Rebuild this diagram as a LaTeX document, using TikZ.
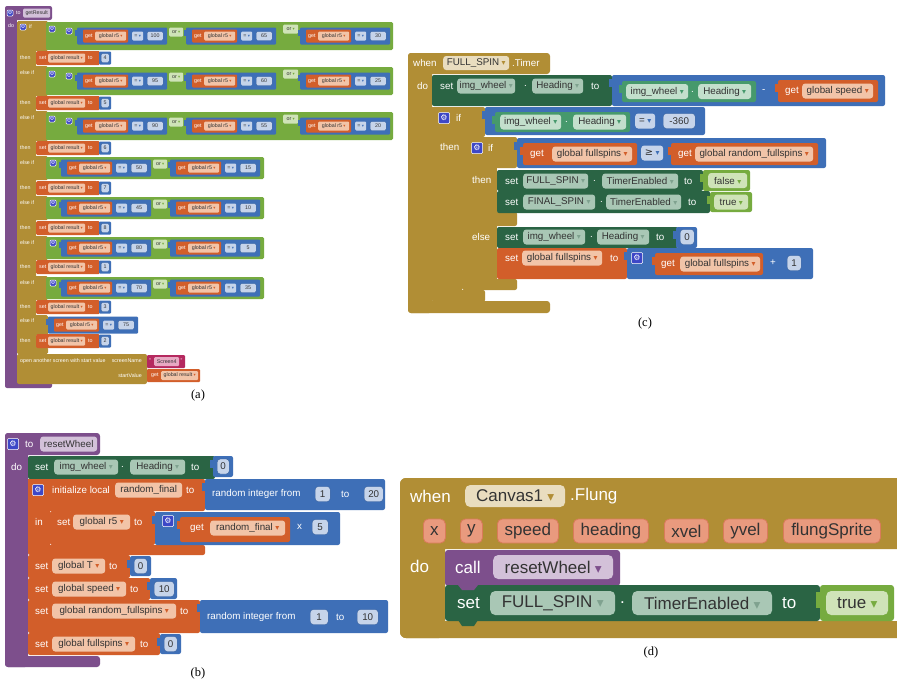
\documentclass[tikz,border=0pt]{standalone}
\usepackage{fontspec}
\setmainfont{Liberation Sans}
\newfontfamily\capf{Liberation Serif}
\newfontfamily\dv{DejaVu Sans}
\definecolor{purp}{HTML}{7D4F8C}
\definecolor{purpF}{HTML}{D3C1D9}
\definecolor{must}{HTML}{B18E35}
\definecolor{mustF}{HTML}{E9DDBF}
\definecolor{lg}{HTML}{76AB3F}
\definecolor{lgF}{HTML}{CFE3B8}
\definecolor{bl}{HTML}{3E6FB7}
\definecolor{blF}{HTML}{C6D4EA}
\definecolor{blD}{HTML}{2F5A99}
\definecolor{orc}{HTML}{D25E2A}
\definecolor{orF}{HTML}{F2C4A8}
\definecolor{dg}{HTML}{2A6444}
\definecolor{dgF}{HTML}{A9C7B5}
\definecolor{mg}{HTML}{46996C}
\definecolor{mgF}{HTML}{C3DFCC}
\definecolor{mag}{HTML}{B5295F}
\definecolor{magF}{HTML}{E8A9C3}
\definecolor{salm}{HTML}{E99A7E}
\definecolor{salmD}{HTML}{D97B5A}
\definecolor{gearb}{HTML}{3D47C7}
\newcommand\dd[1]{\hspace{0.25em}\scalebox{0.8}{\dv\textcolor{#1}{▾}}}
\newcommand\lab[5]{\node[anchor=west,inner sep=0pt,#4] (#1) at (#2,#3) {#5};}
\newcommand\fld[6]{\node[anchor=west,#5,minimum width=#3pt] (#1) at (#2,#4) {#6};}
\newcommand\gearn[5]{\node[gearst,minimum size=#4pt,font=\dv\fontsize{#5}{#5}\selectfont] (#1) at (#2,#3) {⚙};}
\newcommand\vtab[3]{\fill[#3] (#1-3,#2+4) rectangle (#1+0.5,#2+12);}
\tikzset{
 gearst/.style={fill=gearb,draw=white,line width=0.5pt,rounded corners=1pt,inner sep=0pt,text=white},
 ta/.style={font=\fontsize{5.3}{6}\selectfont,text=white},
 fa/.style={ta,text=black!80,rounded corners=1.2pt,minimum height=9pt,inner sep=0.3pt},
 tb/.style={font=\fontsize{9.8}{11}\selectfont,text=white},
 fb/.style={tb,text=black!80,rounded corners=3pt,minimum height=15pt,inner sep=0.5pt},
 td/.style={font=\fontsize{17}{19}\selectfont,text=white},
 fd/.style={td,text=black!80,rounded corners=5pt,minimum height=24pt,inner sep=1pt},
 nb/.style={fb,fill=blF,draw=blD,line width=0.4pt},
 capst/.style={font=\capf\fontsize{12.5}{14}\selectfont,inner sep=0pt},
}
% panel (a) helpers
\newcommand\cmpA[4]{%
 \fill[bl,rounded corners=1pt] (#2,#3-8.5) rectangle ++(90,17);
 \fill[bl] (#2-2,#3-6) rectangle ++(3,6);
 \fill[orc,rounded corners=1pt] (#2+6,#3-6.5) rectangle ++(45,13);
 \lab{#1-get}{#2+8}{#3}{ta}{get}
 \fld{#1-v}{#2+18}{31}{#3}{fa,fill=orF}{global r5\dd{orc}}
 \fld{#1-eq}{#2+55}{11}{#3}{fa,fill=blF}{=\dd{bl}}
 \fld{#1-n}{#2+70}{16}{#3}{fa,fill=blF,draw=blD,line width=0.3pt}{#4}}
\newcommand\orA[5]{%
 \fill[lg,rounded corners=1.5pt] (#2,#3-11) rectangle ++(218,22);
 \gearn{#1-g}{#2+7}{#3-5}{6}{5}
 \cmpA{#1a}{#2+15}{#3}{#4}
 \fld{#1-or}{#2+107}{14}{#3-4}{fa,fill=lgF}{or\dd{lg}}
 \cmpA{#1b}{#2+124}{#3}{#5}}
\newcommand\orB[5]{%
 \fill[lg,rounded corners=1.5pt] (46,#2-14) rectangle (393,#2+14);
 \gearn{#1-g}{52}{#2-7}{6}{5}
 \orA{#1i}{62}{#2}{#3}{#4}
 \fld{#1-or}{283}{15}{#2-7}{fa,fill=lgF}{or\dd{lg}}
 \cmpA{#1c}{300}{#2}{#5}}
\newcommand\thenA[3]{%
 \lab{#1-t}{20}{#2}{ta}{then}
 \fill[orc,rounded corners=1.5pt] (36,#2-7) rectangle (100,#2+7);
 \lab{#1-s}{39}{#2}{ta}{set}
 \fld{#1-v}{48}{37}{#2}{fa,fill=orF}{global result\dd{orc}}
 \lab{#1-to}{88}{#2}{ta}{to}
 \fill[bl,rounded corners=1pt] (99,#2-6.5) rectangle (111,#2+6.5);
 \fld{#1-n}{101}{8}{#2}{fa,fill=blF,draw=blD,line width=0.3pt}{#3}}
\begin{document}
\begin{tikzpicture}[x=1pt,y=-1pt]
\useasboundingbox (0,0) rectangle (897,680);
\fill[white] (0,0) rectangle (897,680);
% ================= panel (a)
\fill[purp,rounded corners=2pt] (5,6) rectangle (52,20);
\fill[purp] (5,12) rectangle (17,384);
\fill[purp,rounded corners=2pt] (5,379) rectangle (52,388);
\gearn{a-gear}{10}{13}{6}{5}
\lab{a-to}{16}{13}{ta}{to}
\fld{a-name}{23}{27}{13}{fa,fill=purpF}{getResult}
\lab{a-do}{8}{26}{ta}{do}
\fill[must,rounded corners=1.5pt] (17,21) rectangle (36,354);
\fill[must,rounded corners=1.5pt] (17,21) rectangle (48,51);
\fill[must,rounded corners=1.5pt] (17,66) rectangle (48,96);
\fill[must,rounded corners=1.5pt] (17,111) rectangle (48,141);
\fill[must,rounded corners=1.5pt] (17,156) rectangle (48,180);
\fill[must,rounded corners=1.5pt] (17,196) rectangle (48,220);
\fill[must,rounded corners=1.5pt] (17,236) rectangle (48,260);
\fill[must,rounded corners=1.5pt] (17,276) rectangle (48,300);
\fill[must,rounded corners=1.5pt] (17,315) rectangle (48,335);
\fill[must,rounded corners=1.5pt] (17,347) rectangle (48,354);
\gearn{a-ifg}{23}{27}{6}{5}
\lab{a-if}{29}{27}{ta}{if}
\lab{a-e2}{20}{73}{ta}{else if}
\lab{a-e3}{20}{118}{ta}{else if}
\lab{a-e4}{20}{163}{ta}{else if}
\lab{a-e5}{20}{203}{ta}{else if}
\lab{a-e6}{20}{243}{ta}{else if}
\lab{a-e7}{20}{283}{ta}{else if}
\lab{a-e8}{20}{321}{ta}{else if}
\orB{a-r1}{36}{100}{65}{30}
\thenA{a-t1}{58}{4}
\orB{a-r2}{81}{95}{60}{25}
\thenA{a-t2}{103}{5}
\orB{a-r3}{126}{90}{55}{20}
\thenA{a-t3}{148}{6}
\orA{a-r4}{46}{168}{50}{15}
\thenA{a-t4}{188}{7}
\orA{a-r5}{46}{208}{45}{10}
\thenA{a-t5}{228}{8}
\orA{a-r6}{46}{248}{80}{5}
\thenA{a-t6}{267}{1}
\orA{a-r7}{46}{288}{70}{35}
\thenA{a-t7}{307}{3}
\cmpA{a-r8}{48}{325}{75}
\thenA{a-t8}{341}{2}
\fill[must,rounded corners=2pt] (17,354) rectangle (147,384);
\lab{a-open}{20}{361}{ta}{open another screen with start value}
\lab{a-sn}{142}{361}{ta,anchor=east}{screenName}
\lab{a-sv}{142}{376}{ta,anchor=east}{startValue}
\fill[mag,rounded corners=1pt] (147,355) rectangle (185,368);
\lab{a-q1}{149}{361}{ta}{"}
\fld{a-s4}{154}{25}{361.5}{fa,fill=magF}{Screen4}
\lab{a-q2}{180.5}{361}{ta}{"}
\fill[orc,rounded corners=1pt] (147,369) rectangle (200,382);
\lab{a-gg}{151}{375.5}{ta}{get}
\fld{a-gr}{161}{37}{375.5}{fa,fill=orF}{global result\dd{orc}}
\node[capst] (capa) at (198,395) {(a)};
% ================= panel (c)
\fill[must,rounded corners=3pt] (408,53) rectangle (550,74);
\fill[must,rounded corners=3pt] (408,53) rectangle (432,313);
\fill[must,rounded corners=3pt] (408,301) rectangle (550,313);
\lab{c-when}{413}{63}{tb}{when}
\fld{c-ev}{443}{66}{63}{fb,fill=mustF,minimum height=14pt}{FULL\_SPIN\dd{must}}
\lab{c-timer}{512}{63}{tb}{.Timer}
\lab{c-do}{417}{86}{tb}{do}
\fill[dg,rounded corners=2pt] (432,75) rectangle (612,106);
\lab{c-s1}{440}{86}{tb}{set}
\fld{c-s1a}{457}{58}{86}{fb,fill=dgF}{img\_wheel\dd{dg!60}}
\lab{c-s1d}{524}{86}{tb}{.}
\fld{c-s1b}{532}{51}{86}{fb,fill=dgF}{Heading\dd{dg!60}}
\lab{c-s1to}{591}{86}{tb}{to}
\fill[bl,rounded corners=2pt] (612,75) rectangle (885,106);
\vtab{612}{75}{bl}
\fill[mg,rounded corners=2pt] (622,81) rectangle (756,102);
\vtab{622}{81}{mg}
\fld{c-m1}{626}{62}{91.5}{fb,fill=mgF}{img\_wheel\dd{mg}}
\lab{c-m1d}{691}{91.5}{tb}{.}
\fld{c-m1b}{698}{53}{91.5}{fb,fill=mgF}{Heading\dd{mg}}
\lab{c-minus}{762}{91}{tb}{-}
\fill[orc,rounded corners=2pt] (778,80) rectangle (878,102);
\vtab{778}{80}{orc}
\lab{c-g1}{785}{91}{tb}{get}
\fld{c-g1v}{802}{71}{91}{fb,fill=orF}{global speed\dd{orc}}
% outer if
\fill[must,rounded corners=2pt] (432,107) rectangle (485,137);
\fill[must] (432,107) rectangle (462,296);
\fill[must,rounded corners=2pt] (432,290) rectangle (485,302);
\gearn{c-ifg}{444}{118}{11}{8}
\lab{c-if}{456}{118}{tb}{if}
\fill[bl,rounded corners=2pt] (485,107) rectangle (705,135);
\vtab{485}{107}{bl}
\fill[mg,rounded corners=2pt] (495,112) rectangle (630,132);
\vtab{495}{112}{mg}
\fld{c-h2a}{500}{61}{122}{fb,fill=mgF}{img\_wheel\dd{mg}}
\lab{c-h2d}{565}{122}{tb}{.}
\fld{c-h2b}{573}{53}{122}{fb,fill=mgF}{Heading\dd{mg}}
\fld{c-eq}{635}{20}{121}{fb,fill=blF}{=\dd{bl}}
\fld{c-n360}{663}{32}{121}{nb}{-360}
\lab{c-then}{440}{147}{tb}{then}
% inner if
\fill[must,rounded corners=2pt] (462,137) rectangle (517,168);
\fill[must] (462,137) rectangle (497,285);
\fill[must,rounded corners=2pt] (462,212) rectangle (517,226);
\fill[must,rounded corners=2pt] (462,279) rectangle (517,290);
\gearn{c-if2g}{477}{148}{11}{8}
\lab{c-if2}{488}{148}{tb}{if}
\fill[bl,rounded corners=2pt] (517,138) rectangle (826,168);
\vtab{517}{138}{bl}
\fill[orc,rounded corners=2pt] (523,143) rectangle (637,165);
\vtab{523}{143}{orc}
\lab{c-g2}{530}{154}{tb}{get}
\fld{c-g2v}{552}{80}{154}{fb,fill=orF}{global fullspins\dd{orc}}
\fld{c-ge}{641}{22}{153}{fb,fill=blF}{{\dv ≥}\dd{bl}}
\fill[orc,rounded corners=2pt] (671,143) rectangle (818,165);
\vtab{671}{143}{orc}
\lab{c-g3}{678}{154}{tb}{get}
\fld{c-g3v}{695}{118}{154}{fb,fill=orF}{global random\_fullspins\dd{orc}}
\lab{c-then2}{472}{180}{tb}{then}
\fill[dg,rounded corners=2pt] (497,170) rectangle (703,191);
\lab{c-s2}{505}{181}{tb}{set}
\fld{c-s2a}{523}{65}{181}{fb,fill=dgF}{FULL\_SPIN\dd{dg!60}}
\lab{c-s2d}{593}{181}{tb}{.}
\fld{c-s2b}{602}{76}{181}{fb,fill=dgF}{TimerEnabled\dd{dg!60}}
\lab{c-s2to}{684}{181}{tb}{to}
\fill[lg,rounded corners=2pt] (703,170) rectangle (750,191);
\vtab{703}{170}{lg}
\fld{c-f}{708}{39}{180.5}{fb,fill=lgF}{false\dd{lg}}
\fill[dg,rounded corners=2pt] (497,191) rectangle (710,213);
\lab{c-s3}{505}{202}{tb}{set}
\fld{c-s3a}{523}{72}{202}{fb,fill=dgF}{FINAL\_SPIN\dd{dg!60}}
\lab{c-s3d}{600}{202}{tb}{.}
\fld{c-s3b}{606}{75}{202}{fb,fill=dgF}{TimerEnabled\dd{dg!60}}
\lab{c-s3to}{688}{202}{tb}{to}
\fill[lg,rounded corners=2pt] (710,192) rectangle (752,212);
\vtab{710}{192}{lg}
\fld{c-t}{714}{34}{202}{fb,fill=lgF}{true\dd{lg}}
\lab{c-else}{472}{237}{tb}{else}
\fill[dg,rounded corners=2pt] (497,227) rectangle (678,248);
\lab{c-s4}{505}{237}{tb}{set}
\fld{c-s4a}{523}{62}{237}{fb,fill=dgF}{img\_wheel\dd{dg!60}}
\lab{c-s4d}{590}{237}{tb}{.}
\fld{c-s4b}{597}{52}{237}{fb,fill=dgF}{Heading\dd{dg!60}}
\lab{c-s4to}{656}{237}{tb}{to}
\fill[bl,rounded corners=2pt] (676,227) rectangle (697,248);
\vtab{676}{227}{bl}
\fld{c-n0}{680}{14}{237}{nb}{0}
\fill[orc,rounded corners=2pt] (497,248) rectangle (627,279);
\lab{c-s5}{505}{258}{tb}{set}
\fld{c-s5a}{522}{80}{258}{fb,fill=orF}{global fullspins\dd{orc}}
\lab{c-s5to}{610}{258}{tb}{to}
\fill[bl,rounded corners=2pt] (627,248) rectangle (813,279);
\vtab{627}{248}{bl}
\gearn{c-pg}{637}{258}{11}{8}
\fill[orc,rounded corners=2pt] (655,253) rectangle (763,275);
\vtab{655}{253}{orc}
\lab{c-g4}{661}{264}{tb}{get}
\fld{c-g4v}{680}{80}{264}{fb,fill=orF}{global fullspins\dd{orc}}
\lab{c-plus}{770}{263}{tb}{+}
\fld{c-n1}{787}{14}{263}{nb}{1}
\node[capst] (capc) at (645,323) {(c)};
% ================= panel (b)
\fill[purp,rounded corners=3pt] (5,433) rectangle (100,455);
\fill[purp,rounded corners=3pt] (5,433) rectangle (28,667);
\fill[purp,rounded corners=3pt] (5,656) rectangle (100,667);
\gearn{b-g}{13}{444}{11}{8}
\lab{b-to}{25}{444}{tb}{to}
\fld{b-name}{40}{57}{444}{fb,fill=purpF}{resetWheel}
\lab{b-do}{11}{467}{tb}{do}
\fill[dg,rounded corners=2pt] (28,456) rectangle (215,479);
\lab{b-s1}{35}{467}{tb}{set}
\fld{b-s1a}{54}{64}{467}{fb,fill=dgF}{img\_wheel\dd{dg!60}}
\lab{b-s1d}{121}{467}{tb}{.}
\fld{b-s1b}{130}{55}{467}{fb,fill=dgF}{Heading\dd{dg!60}}
\lab{b-s1to}{191}{467}{tb}{to}
\fill[bl,rounded corners=2pt] (213,456) rectangle (233,477);
\vtab{213}{456}{bl}
\fld{b-n0}{217}{12}{466.5}{nb}{0}
\fill[orc,rounded corners=2pt] (28,479) rectangle (205,511);
\fill[orc] (28,479) rectangle (50,550);
\fill[orc,rounded corners=2pt] (28,545) rectangle (205,555);
\gearn{b-ig}{38}{490}{11}{8}
\lab{b-init}{52}{490}{tb}{initialize local}
\fld{b-rf}{115}{67}{490}{fb,fill=orF}{random\_final}
\lab{b-into}{186}{490}{tb}{to}
\fill[bl,rounded corners=2pt] (205,479) rectangle (385,510);
\vtab{205}{479}{bl}
\lab{b-ri}{212}{494}{tb}{random integer from}
\fld{b-ri1}{315}{15}{494}{nb}{1}
\lab{b-rito}{341}{494}{tb}{to}
\fld{b-ri2}{364}{19}{494}{nb}{20}
\lab{b-in}{35}{522}{tb}{in}
\fill[orc,rounded corners=2pt] (50,511) rectangle (155,545);
\lab{b-s2}{57}{522}{tb}{set}
\fld{b-s2a}{73}{57}{522}{fb,fill=orF}{global r5\dd{orc}}
\lab{b-s2to}{134}{522}{tb}{to}
\fill[bl,rounded corners=2pt] (155,512) rectangle (340,545);
\vtab{155}{512}{bl}
\gearn{b-mg}{168}{521}{11}{8}
\fill[orc,rounded corners=2pt] (180,517) rectangle (290,542);
\vtab{180}{517}{orc}
\lab{b-g2}{190}{528}{tb}{get}
\fld{b-g2v}{210}{75}{528}{fb,fill=orF}{random\_final\dd{orc}}
\lab{b-x}{297}{527}{tb}{x}
\fld{b-n5}{312}{16}{527}{nb}{5}
\fill[orc,rounded corners=2pt] (28,555) rectangle (130,578);
\lab{b-s3}{35}{566}{tb}{set}
\fld{b-s3a}{52}{53}{566}{fb,fill=orF}{global T\dd{orc}}
\lab{b-s3to}{109}{566}{tb}{to}
\fill[bl,rounded corners=2pt] (130,556) rectangle (151,576);
\vtab{130}{556}{bl}
\fld{b-s3n}{134}{13}{566}{nb}{0}
\fill[orc,rounded corners=2pt] (28,578) rectangle (150,600);
\lab{b-s4}{35}{589}{tb}{set}
\fld{b-s4a}{52}{74}{589}{fb,fill=orF}{global speed\dd{orc}}
\lab{b-s4to}{130}{589}{tb}{to}
\fill[bl,rounded corners=2pt] (150,578) rectangle (177,599);
\vtab{150}{578}{bl}
\fld{b-s4n}{154}{20}{589}{nb}{10}
\fill[orc,rounded corners=2pt] (28,600) rectangle (200,633);
\lab{b-s5}{35}{611}{tb}{set}
\fld{b-s5a}{52}{124}{611}{fb,fill=orF}{global random\_fullspins\dd{orc}}
\lab{b-s5to}{180}{611}{tb}{to}
\fill[bl,rounded corners=2pt] (200,600) rectangle (388,633);
\vtab{200}{600}{bl}
\lab{b-ri3}{207}{617}{tb}{random integer from}
\fld{b-ri3a}{310}{18}{617}{nb}{1}
\lab{b-ri3to}{336}{617}{tb}{to}
\fld{b-ri3b}{357}{21}{617}{nb}{10}
\fill[orc,rounded corners=2pt] (28,633) rectangle (160,655);
\lab{b-s6}{35}{644}{tb}{set}
\fld{b-s6a}{52}{83}{644}{fb,fill=orF}{global fullspins\dd{orc}}
\lab{b-s6to}{140}{644}{tb}{to}
\fill[bl,rounded corners=2pt] (160,634) rectangle (181,654);
\vtab{160}{634}{bl}
\fld{b-s6n}{164}{13}{644}{nb}{0}
\node[capst] (capb) at (198,673) {(b)};
% ================= panel (d)
\begin{scope}
\clip (0,0) rectangle (897,680);
\fill[must,rounded corners=6pt] (400,478) rectangle (915,549);
\fill[must,rounded corners=6pt] (400,478) rectangle (445,638);
\fill[must,rounded corners=6pt] (400,621) rectangle (915,638);
\end{scope}
\lab{d-when}{410}{496}{td}{when}
\fld{d-ev}{465}{100}{496}{fd,fill=mustF,minimum height=22pt}{Canvas1\dd{must}}
\lab{d-flung}{570}{496}{td}{.Flung}
\fld{d-p1}{423}{22}{531}{fd,fill=salm,draw=salmD,line width=0.8pt}{x}
\fld{d-p2}{460}{22}{531}{fd,fill=salm,draw=salmD,line width=0.8pt}{y}
\fld{d-p3}{497}{61}{531}{fd,fill=salm,draw=salmD,line width=0.8pt}{speed}
\fld{d-p4}{573}{75}{531}{fd,fill=salm,draw=salmD,line width=0.8pt}{heading}
\fld{d-p5}{664}{44}{531}{fd,fill=salm,draw=salmD,line width=0.8pt}{xvel}
\fld{d-p6}{723}{44}{531}{fd,fill=salm,draw=salmD,line width=0.8pt}{yvel}
\fld{d-p7}{783}{97}{531}{fd,fill=salm,draw=salmD,line width=0.8pt}{flungSprite}
\lab{d-do}{410}{566}{td}{do}
\fill[purp,rounded corners=3pt] (445,550) rectangle (620,586);
\lab{d-call}{455}{567}{td}{call}
\fld{d-rw}{493}{120}{567}{fd,fill=purpF}{resetWheel\dd{purp}}
\fill[dg,rounded corners=3pt] (445,585) rectangle (820,621);
\fill[purp] (458,585) -- (462,590) -- (474,590) -- (478,585) -- cycle;
\fill[dg] (458,620) -- (462,626) -- (474,626) -- (478,620) -- cycle;
\lab{d-set}{457}{603}{td}{set}
\fld{d-fs}{490}{125}{603}{fd,fill=dgF}{FULL\_SPIN\dd{dg!60}}
\lab{d-dot}{620}{603}{td}{.}
\fld{d-te}{632}{140}{603}{fd,fill=dgF}{TimerEnabled\dd{dg!60}}
\lab{d-to}{782}{603}{td}{to}
\fill[lg,rounded corners=3pt] (820,585) rectangle (894,621);
\fill[lg] (816,592) rectangle (821,608);
\fld{d-true}{826}{62}{603}{fd,fill=lgF}{true\dd{lg}}
\node[capst] (capd) at (651,652) {(d)};
\end{tikzpicture}
\end{document}
